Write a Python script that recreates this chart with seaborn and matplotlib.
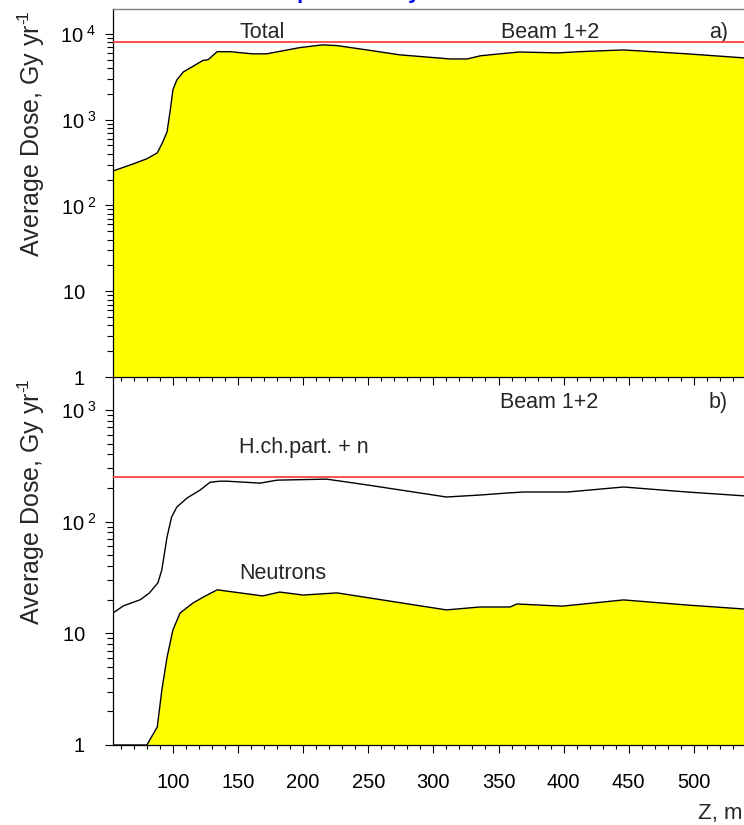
#
# plot.py
#   - Average dose along Z, two log panels (total / hadrons + neutrons).
#

import numpy as np
import seaborn as sns
import matplotlib.pyplot as plt
from matplotlib.ticker import MultipleLocator, FuncFormatter, NullFormatter

# a) total dose, Gy/yr
z_total = [54, 69, 80, 88, 92, 95.5, 98, 100, 103, 108, 115, 123, 127, 134, 144,
           161, 172, 197, 215, 226, 249, 274, 313, 326, 336, 351, 366, 395, 412,
           446, 495, 538.5]
dose_total = [252, 303, 350, 410, 540, 720, 1300, 2230, 2900, 3600, 4150, 4900,
              5000, 6200, 6200, 5850, 5850, 6900, 7450, 7300, 6500, 5700, 5100,
              5100, 5550, 5850, 6150, 6000, 6200, 6500, 5850, 5250]

# b) hadrons + neutrons, Gy/yr
z_hch = [54, 62, 75, 82, 88.5, 91.5, 95.5, 99, 103, 111, 121, 128.5, 136, 141.5,
         167, 180, 218, 249, 310, 336, 356, 369, 403, 446, 495, 538.5]
dose_hch = [15.2, 17.6, 20, 23, 28.3, 37, 73, 110, 135, 163, 192, 225, 230, 230,
            221, 235, 240, 213, 166, 173, 180, 184, 184, 204, 184, 170]

# b) neutrons only, Gy/yr
z_neut = [54, 80, 88, 91.5, 95.5, 100, 105.5, 115.5, 123, 134, 169, 182, 200, 226,
          310, 336, 359, 364, 399, 446, 495, 538.5]
dose_neut = [1, 1, 1.45, 3.1, 6.1, 10.7, 15.2, 18.7, 21, 24.5, 21.6, 23.4, 22, 23,
             16.2, 17.2, 17.2, 18.3, 17.5, 19.9, 17.9, 16.5]

limit_total = 8000
limit_hch = 250


def dose_label(v, pos):
    if v <= 1.5:
        return "1  "
    if v <= 15:
        return "10  "
    n = int(round(np.log10(v)))
    return r"10$^{\ %d}$" % n


def style_axis(ax, ymax):
    ax.set_yscale("log")
    ax.set_xlim(54, 538.5)
    ax.set_ylim(1, ymax)
    ax.xaxis.set_major_locator(MultipleLocator(50))
    ax.xaxis.set_minor_locator(MultipleLocator(10))
    ax.yaxis.set_major_formatter(FuncFormatter(dose_label))
    ax.yaxis.set_minor_formatter(NullFormatter())
    ax.tick_params(which="both", direction="out", width=0.8, colors="black")
    ax.tick_params(axis="y", which="major", length=6, pad=6, labelsize=14.5)
    ax.tick_params(axis="y", which="minor", length=4)
    ax.tick_params(axis="x", which="major", length=5.5, pad=15, labelsize=14.5)
    ax.tick_params(axis="x", which="minor", length=3)
    ax.spines["right"].set_visible(False)
    for s in ("left", "bottom"):
        ax.spines[s].set_color("black")
        ax.spines[s].set_linewidth(0.9)
    ax.set_ylabel("Average Dose, Gy yr$^{\u2010\\!1}$", fontsize=18)
    ax.yaxis.set_label_coords(-0.104, 0.66)
    ax.set_xlabel("")


def main():
    sns.set_style("ticks")
    plt.rcParams["font.family"] = ["Liberation Sans", "DejaVu Sans"]
    plt.rcParams["mathtext.fontset"] = "custom"
    plt.rcParams["mathtext.rm"] = "Liberation Sans"
    plt.rcParams["mathtext.it"] = "Liberation Sans"
    plt.rcParams["mathtext.bf"] = "Liberation Sans:bold"

    fig = plt.figure(figsize=(7.44, 8.25), dpi=100)
    ax1 = fig.add_axes([113 / 744, 1 - 377 / 825, 631 / 744, 368 / 825])
    ax2 = fig.add_axes([113 / 744, 1 - 745 / 825, 631 / 744, 368 / 825])
    ax2.patch.set_visible(False)
    ax1.set_zorder(2)

    # panel a)
    ax1.fill_between(z_total, dose_total, 1e-3, color="#ffff00", lw=0, zorder=1)
    sns.lineplot(x=z_total, y=dose_total, ax=ax1, color="black", lw=1, zorder=3)
    ax1.axhline(limit_total, color="#ff4040", lw=1.3, zorder=4)
    style_axis(ax1, 1.95e4)
    ax1.tick_params(axis="x", labelbottom=False)
    ax1.spines["top"].set_color("#808080")
    ax1.spines["top"].set_linewidth(1.0)
    ax1.text(151, 1.05e4, "Total", fontsize=15.5, va="center")
    ax1.text(352, 1.05e4, "Beam 1+2", fontsize=15.5, va="center")
    ax1.text(512, 1.05e4, "a)", fontsize=15.5, va="center")

    # panel b)
    ax2.fill_between(z_neut, dose_neut, 1e-3, color="#ffff00", lw=0, zorder=1)
    sns.lineplot(x=z_neut, y=dose_neut, ax=ax2, color="black", lw=1, zorder=3)
    sns.lineplot(x=z_hch, y=dose_hch, ax=ax2, color="black", lw=1, zorder=3)
    ax2.axhline(limit_hch, color="#ff4040", lw=1.3, zorder=4)
    style_axis(ax2, 1970)
    ax2.spines["top"].set_visible(False)
    ax2.text(351, 1175, "Beam 1+2", fontsize=15.5, va="center")
    ax2.text(511, 1175, "b)", fontsize=15.5, va="center")
    ax2.text(151, 457, "H.ch.part. + n", fontsize=15.5, va="center")
    ax2.text(151, 34.6, "Neutrons", fontsize=15.5, va="center")

    fig.text(0.998, 1 - 813 / 825, "Z, m", fontsize=16, ha="right", va="center")

    # title, cut off by the top edge of the original picture
    fig.text(275 / 744, 1 + 2.5 / 825, "Dipole arcs: yoke dose", fontsize=16,
             fontweight="bold", color="#0000ff", ha="left", va="baseline")

    plt.savefig("out.png", dpi=100)


if __name__ == '__main__':
    main()
